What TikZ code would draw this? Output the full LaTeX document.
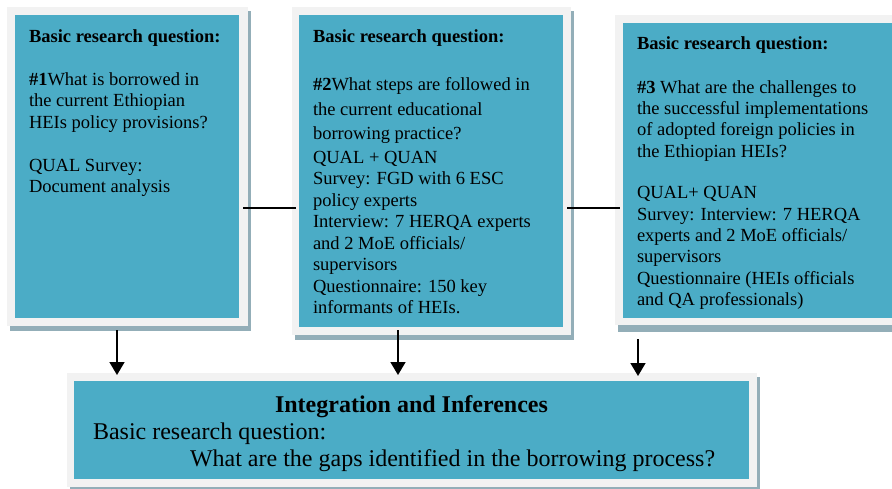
\documentclass[tikz,border=0pt]{standalone}
\usepackage{fontspec}
\setmainfont{Liberation Serif}
\usetikzlibrary{arrows.meta}
\definecolor{tealfill}{HTML}{4BACC6}
\definecolor{frameg}{HTML}{F2F2F2}
\definecolor{shad}{HTML}{93AEB8}
\begin{document}
\begin{tikzpicture}[x=1pt,y=-1pt,
  shadowbox/.style={fill=shad,draw=none,inner sep=0,outer sep=0,anchor=north west},
  framebox/.style={fill=frameg,draw=none,inner sep=0,outer sep=0,anchor=north west},
  tealbox/.style={fill=tealfill,draw=none,inner sep=0,outer sep=0,anchor=north west},
  bodytext/.style={inner sep=0,outer sep=0,anchor=north west,align=left,font=\fontsize{18.5}{21.5}\selectfont},
  bigtext/.style={inner sep=0,outer sep=0,font=\fontsize{24}{28}\selectfont},
  arr/.style={line width=1.6pt,-{Triangle[width=15pt,length=13pt]}},
  conn/.style={line width=1.2pt}]
\useasboundingbox (0,0) rectangle (892,488);
\clip (0,0) rectangle (892,488);
\fill[white] (0,0) rectangle (892,488);
% box 1
\node[shadowbox,minimum width=241pt,minimum height=320pt] (s1) at (10,11) {};
\node[framebox,minimum width=241pt,minimum height=319pt] (f1) at (7,7) {};
\node[tealbox,minimum width=224pt,minimum height=303pt] (b1) at (15,15) {};
% box 2
\node[shadowbox,minimum width=279pt,minimum height=329pt] (s2) at (295,11) {};
\node[framebox,minimum width=279pt,minimum height=328pt] (f2) at (292,7) {};
\node[tealbox,minimum width=264pt,minimum height=312pt] (b2) at (299,15) {};
% box 3
\node[shadowbox,minimum width=290pt,minimum height=313pt] (s3) at (618,19) {};
\node[framebox,minimum width=290pt,minimum height=310pt] (f3) at (615,15) {};
\node[tealbox,minimum width=280pt,minimum height=295pt] (b3) at (623,23) {};
% bottom box
\node[shadowbox,minimum width=690pt,minimum height=115pt] (s4) at (70,377) {};
\node[framebox,minimum width=690pt,minimum height=114pt] (f4) at (67,373) {};
\node[tealbox,minimum width=675pt,minimum height=98pt] (b4) at (74,381) {};
% texts
\node[bodytext] (t1) at (29,29.5) {\textbf{Basic research question:}\\[21.5pt]
\textbf{\#1}What is borrowed in\\
the current Ethiopian\\
HEIs policy provisions?\\[21.5pt]
QUAL Survey:\\
Document analysis};
\node[bodytext] (t2) at (313,29.5) {\textbf{Basic research question:}\\[26.5pt]
\textbf{\#2}What steps are followed in\\[3.5pt]
the current educational\\[2.5pt]
borrowing practice?\\[2.5pt]
QUAL + QUAN\\
Survey: FGD with 6 ESC\\
policy experts\\
Interview: 7 HERQA experts\\
and 2 MoE officials/\\
supervisors\\
Questionnaire: 150 key\\
informants of HEIs.};
\node[bodytext,font=\fontsize{18.5}{21.3}\selectfont] (t3) at (637,36.5) {\textbf{Basic research question:}\\[22.5pt]
\textbf{\#3} What are the challenges to\\
the successful implementations\\
of adopted foreign policies in\\
the Ethiopian HEIs?\\[20.5pt]
QUAL+ QUAN\\
Survey: Interview: 7 HERQA\\
experts and 2 MoE officials/\\
supervisors\\
Questionnaire (HEIs officials\\
and QA professionals)};
\node[bigtext,anchor=base] (t4) at (411.5,412) {\textbf{Integration and Inferences}};
\node[bigtext,anchor=base west] (t5) at (93,439) {Basic research question:};
\node[bigtext,anchor=base west] (t6) at (190,466) {What are the gaps identified in the borrowing process?};
% connectors
\coordinate (h1a) at (243,208); \coordinate (h1b) at (296,208);
\coordinate (h2a) at (567,208); \coordinate (h2b) at (620,208);
\draw[conn] (h1a) -- (h1b);
\draw[conn] (h2a) -- (h2b);
\coordinate (a1s) at (117,330); \coordinate (a1e) at (117,375);
\coordinate (a2s) at (398,330); \coordinate (a2e) at (398,375);
\coordinate (a3s) at (638,339); \coordinate (a3e) at (638,376);
\draw[arr] (a1s) -- (a1e);
\draw[arr] (a2s) -- (a2e);
\draw[arr] (a3s) -- (a3e);
\end{tikzpicture}
\end{document}
